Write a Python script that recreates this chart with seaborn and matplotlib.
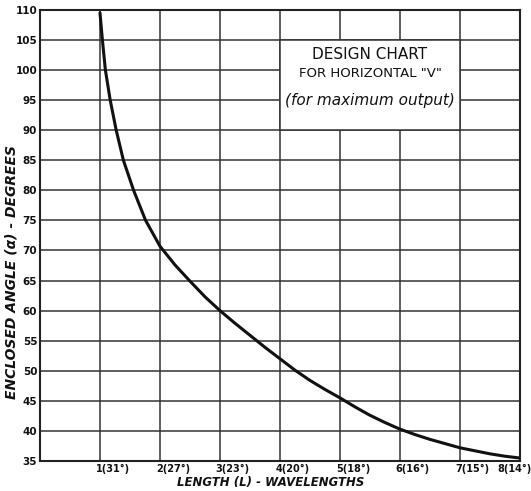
import pandas as pd
import numpy as np
import matplotlib
matplotlib.use("Agg")
import matplotlib.pyplot as plt
import matplotlib.transforms as mtransforms
from matplotlib.patches import Rectangle
import seaborn as sns

# curve
length = [1.0, 1.04, 1.09, 1.17, 1.27, 1.39, 1.56, 1.76, 2.0, 2.25, 2.5, 2.75,
          3.0, 3.25, 3.5, 3.75, 4.0, 4.25, 4.5, 4.75, 5.0, 5.25, 5.5, 5.75,
          6.0, 6.25, 6.5, 6.75, 7.0, 7.25, 7.5, 7.75, 8.0]
angle = [109.5, 105, 100, 95, 90, 85, 80, 75, 70.7, 67.6, 64.9, 62.3,
         60, 57.9, 55.9, 53.9, 52, 50.1, 48.4, 46.9, 45.5, 44, 42.6, 41.4,
         40.3, 39.4, 38.6, 37.9, 37.2, 36.7, 36.2, 35.8, 35.5]

x_ticks = [1, 2, 3, 4, 5, 6, 7, 8]
x_ticklabels = ["1(31°)", "2(27°)", "3(23°)", "4(20°)", "5(18°)", "6(16°)", "7(15°)", "8(14°)"]
y_ticks = list(range(35, 111, 5))

df = pd.DataFrame({"L": length, "angle": angle})

sns.set_theme(style="white")
plt.rcParams["font.family"] = ["DejaVu Sans"]

fig = plt.figure(figsize=(5.31, 4.91), dpi=100)
ax = fig.add_axes([0.0753, 0.061, 0.904, 0.919])

sns.lineplot(data=df, x="L", y="angle", sort=False, estimator=None,
             color="#111111", linewidth=2.2, ax=ax, zorder=4)

ax.set_xlim(0, 8)
ax.set_ylim(35, 110)
ax.set_xticks(x_ticks)
ax.set_yticks(y_ticks)
ax.set_xticklabels([])
ax.set_yticklabels([str(v) for v in y_ticks], fontsize=7.5, fontweight="bold")
ax.tick_params(axis="both", length=0, pad=2, colors="#111111")

# x tick labels sit just right of their grid line, as in the hand-drawn chart
xtrans = mtransforms.blended_transform_factory(ax.transData, ax.transAxes)
for i, (xv, txt) in enumerate(zip(x_ticks, x_ticklabels)):
    dx = -3 if i < len(x_ticks) - 1 else -16
    off = mtransforms.ScaledTranslation(dx / 72, 0, fig.dpi_scale_trans)
    ax.text(xv, -0.006, txt, transform=xtrans + off, ha="left", va="top",
            fontsize=7, fontweight="bold", color="#111111", clip_on=False)

ax.grid(True, color="#333333", linewidth=1.1)
ax.set_axisbelow(True)
for s in ax.spines.values():
    s.set_color("#222222")
    s.set_linewidth(1.5)

ax.set_xlabel("LENGTH (L) - WAVELENGTHS", fontsize=8.5, style="italic",
              fontweight="bold", color="#111111")
ax.set_ylabel("ENCLOSED ANGLE (α) - DEGREES", fontsize=10, style="italic",
              fontweight="bold", color="#111111")
ax.xaxis.set_label_coords(0.48, -0.033)
ax.yaxis.set_label_coords(-0.045, 0.42)

# title panel sitting on the grid
ax.add_patch(Rectangle((4, 90), 3, 15, facecolor="white", edgecolor="#333333",
                       linewidth=1.1, zorder=3))
ax.text(5.5, 102.5, "DESIGN CHART", ha="center", va="center", fontsize=11,
        color="#111111", zorder=5)
ax.text(5.5, 99.4, 'FOR HORIZONTAL "V"', ha="center", va="center", fontsize=9.5,
        color="#111111", zorder=5)
ax.text(5.5, 95, "(for maximum output)", ha="center", va="center", fontsize=11,
        style="italic", color="#111111", zorder=5)

fig.savefig("out.png", dpi=100)
plt.close(fig)
